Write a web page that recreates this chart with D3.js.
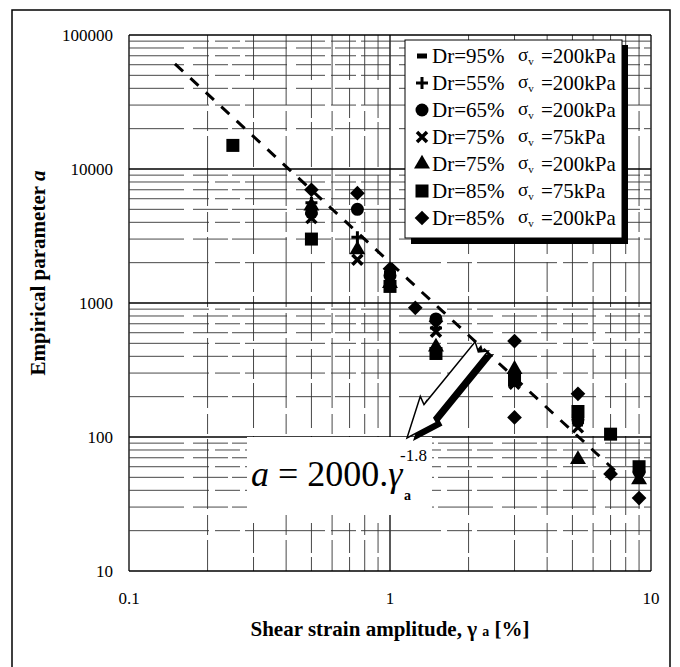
<!DOCTYPE html>
<html><head><meta charset="utf-8">
<script src="https://cdn.jsdelivr.net/npm/d3@7"></script>
<style>body{margin:0;background:#fff}svg{display:block}</style>
</head><body>
<svg id="c" width="680" height="667"></svg>
<script>
// ---- data ----
const seriesNames = ["Dr=95%","Dr=55%","Dr=65%","Dr=75%","Dr=75%","Dr=85%","Dr=85%"];
const seriesStress = ["=200kPa","=200kPa","=200kPa","=75kPa","=200kPa","=75kPa","=200kPa"];
const seriesSymbols = ["dash","plus","circle","times","triangle","square","diamond"];
const dr95 = [[0.5,5000],[1,1600],[5.25,125]];
const dr55 = [[0.5,5600],[0.75,3100],[1,1700],[1.5,650],[3,300],[5.25,130]];
const dr65 = [[0.5,4700],[0.75,5000],[1,1600],[1.5,760],[3,290],[5.25,135],[9,55]];
const dr75a = [[0.5,4300],[0.75,2100],[1,1500],[1.5,610],[3,250],[5.25,118]];
const dr75b = [[0.5,5300],[0.75,2500],[1,1400],[1.5,470],[3,320],[5.25,68],[9,48]];
const dr85a = [[0.25,15000],[0.5,3000],[1,1330],[1.5,420],[3,265],[5.25,155],[7,105],[9,60]];
const dr85b = [[0.5,7000],[0.75,6600],[1,1800],[1.25,920],[1.5,730],[3,520],[3,140],[5.25,210],[7,53],[9,35]];
const seriesData = [dr95,dr55,dr65,dr75a,dr75b,dr85a,dr85b];
const xTicks = [0.1,1,10];
const xTickLabels = ["0.1","1","10"];
const yTicks = [10,100,1000,10000,100000];
const yTickLabels = ["10","100","1000","10000","100000"];
const fitCoef = 2000, fitExp = -1.8;
const fitRange = [0.15, 7.5];

// ---- layout ----
const svg = d3.select("#c");
const L=129, R=651, T=35, B=571;
const x = d3.scaleLog().domain([0.1,10]).range([L,R]);
const y = d3.scaleLog().domain([10,100000]).range([B,T]);
const serif = "Liberation Serif, Times New Roman, serif";

// outer frame
svg.append("rect").attr("x",12).attr("y",10).attr("width",658).attr("height",662)
  .attr("fill","none").attr("stroke","#000").attr("stroke-width",1.5);

// grid
const g = svg.append("g");
const xMinor=[], yMinor=[];
for (let d=0.1; d<10; d*=10) for (let k=1;k<=9;k++) xMinor.push(+(d*k).toPrecision(3));
xMinor.push(10);
for (let d=10; d<100000; d*=10) for (let k=1;k<=9;k++) yMinor.push(+(d*k).toPrecision(3));
yMinor.push(100000);
g.selectAll(".vx").data(xMinor).join("line")
  .attr("x1",d=>x(d)).attr("x2",d=>x(d)).attr("y1",T).attr("y2",B)
  .attr("stroke",d=>xTicks.includes(d)?"#000":"#333")
  .attr("stroke-width",d=>xTicks.includes(d)?1.3:0.9)
  .attr("stroke-dasharray",(d,i)=>xTicks.includes(d)?null:(i%2?"70,6,20,5":"45,8,30,4"));
g.selectAll(".hy").data(yMinor).join("line")
  .attr("y1",d=>y(d)).attr("y2",d=>y(d)).attr("x1",L).attr("x2",R)
  .attr("stroke",d=>yTicks.includes(d)?"#000":"#333")
  .attr("stroke-width",d=>yTicks.includes(d)?1.3:0.9)
  .attr("stroke-dasharray",(d,i)=>yTicks.includes(d)?null:(i%2?"80,6,25,5":"55,9,35,4"));

// tick labels
svg.selectAll(".yl").data(yTicks).join("text")
  .attr("x",113).attr("y",d=>y(d)).attr("dy","0.35em").attr("text-anchor","end")
  .attr("font-family",serif).attr("font-size",17).text((d,i)=>yTickLabels[i]);
svg.selectAll(".xl").data(xTicks).join("text")
  .attr("x",d=>x(d)).attr("y",B+33).attr("text-anchor","middle")
  .attr("font-family",serif).attr("font-size",17).text((d,i)=>xTickLabels[i]);

// axis titles
const yt = svg.append("text").attr("transform","translate(45,273) rotate(-90)")
  .attr("text-anchor","middle").attr("font-family",serif).attr("font-size",21).attr("font-weight","bold");
yt.append("tspan").text("Empirical parameter ");
yt.append("tspan").attr("font-style","italic").text("a");
const xt = svg.append("text").attr("x",390).attr("y",636).attr("text-anchor","middle")
  .attr("font-family",serif).attr("font-size",21).attr("font-weight","bold");
xt.append("tspan").text("Shear strain amplitude, γ ");
xt.append("tspan").attr("font-size",14).text("a");
xt.append("tspan").text(" [%]");

// equation box
svg.append("rect").attr("x",247).attr("y",437).attr("width",185).attr("height",78).attr("fill","#fff");

// fit line
const fitPts = d3.range(0,41).map(i=>{const lx=Math.log10(fitRange[0])+(Math.log10(fitRange[1])-Math.log10(fitRange[0]))*i/40; const v=Math.pow(10,lx); return [v, fitCoef*Math.pow(v,fitExp)];});
svg.append("path").datum(fitPts)
  .attr("d",d3.line().x(d=>x(d[0])).y(d=>y(d[1])))
  .attr("fill","none").attr("stroke","#000").attr("stroke-width",3).attr("stroke-dasharray","11,10");

// markers
function drawSymbol(sel, type){
  if(type==="dash"){ sel.append("rect").attr("x",-5).attr("y",-2.5).attr("width",10).attr("height",5).attr("fill","#000"); }
  else if(type==="plus"){ sel.append("path").attr("d","M-6,0H6M0,-6V6").attr("fill","none").attr("stroke","#000").attr("stroke-width",3); }
  else if(type==="times"){ sel.append("path").attr("d","M-5,-5L5,5M-5,5L5,-5").attr("fill","none").attr("stroke","#000").attr("stroke-width",3.5); }
  else if(type==="circle"){ sel.append("circle").attr("r",6.5).attr("fill","#000"); }
  else if(type==="triangle"){ sel.append("path").attr("d",d3.symbol(d3.symbolTriangle,110)()).attr("fill","#000"); }
  else if(type==="square"){ sel.append("rect").attr("x",-6.5).attr("y",-6.5).attr("width",13).attr("height",13).attr("fill","#000"); }
  else if(type==="diamond"){ sel.append("rect").attr("x",-5.2).attr("y",-5.2).attr("width",10.4).attr("height",10.4).attr("transform","rotate(45)").attr("fill","#000"); }
}
seriesData.forEach((data,si)=>{
  svg.append("g").selectAll("g").data(data).join("g")
    .attr("transform",d=>`translate(${x(d[0])},${y(d[1])})`)
    .each(function(){ drawSymbol(d3.select(this), seriesSymbols[si]); });
});

// legend
const lg = svg.append("g");
lg.append("rect").attr("x",411).attr("y",45).attr("width",217).attr("height",199).attr("fill","#000");
lg.append("rect").attr("x",405).attr("y",40).attr("width",217).attr("height",198).attr("fill","#fff").attr("stroke","#000").attr("stroke-width",1);
seriesNames.forEach((n,i)=>{
  const cy = 56 + i*27;
  const r = lg.append("g").attr("transform",`translate(0,${cy})`);
  drawSymbol(r.append("g").attr("transform","translate(422,0)"), seriesSymbols[i]);
  r.append("text").attr("x",432).attr("y",7).attr("font-family",serif).attr("font-size",21).text(n);
  const s = r.append("text").attr("x",518).attr("y",5).attr("font-family",serif).attr("font-size",19);
  s.append("tspan").text("σ");
  s.append("tspan").attr("font-size",11).attr("dy",4).text("v");
  r.append("text").attr("x",541).attr("y",7).attr("font-family",serif).attr("font-size",21).text(seriesStress[i]);
});

// arrow (lightning style)
const Tp=[482,346], Hp=[407,438];
const dx=Hp[0]-Tp[0], dy=Hp[1]-Tp[1], len=Math.hypot(dx,dy);
const ux=dx/len, uy=dy/len, nx=-uy, ny=ux;
const local=[[0,-8],[7,-1],[1,8],[82,8],[78,16],[len,0],[88,-13],[86,-8]];
const pts = local.map(([s,t])=>[Tp[0]+ux*s+nx*t, Tp[1]+uy*s+ny*t]);
svg.append("polygon").attr("points",pts.map(p=>[p[0]+6,p[1]+3].join(",")).join(" ")).attr("fill","#000");
svg.append("polygon").attr("points",pts.map(p=>p.join(",")).join(" ")).attr("fill","#fff").attr("stroke","#000").attr("stroke-width",1.5);

// equation
const eq = svg.append("text").attr("x",251).attr("y",486).attr("font-family",serif).attr("font-size",36);
eq.append("tspan").attr("font-style","italic").text("a");
eq.append("tspan").text(" = 2000.");
eq.append("tspan").attr("font-style","italic").text("γ");
svg.append("text").attr("x",400).attr("y",461).attr("font-family",serif).attr("font-size",17).text("-1.8");
svg.append("text").attr("x",404).attr("y",500).attr("font-family",serif).attr("font-size",14).attr("font-weight","bold").text("a");
</script>
</body></html>
